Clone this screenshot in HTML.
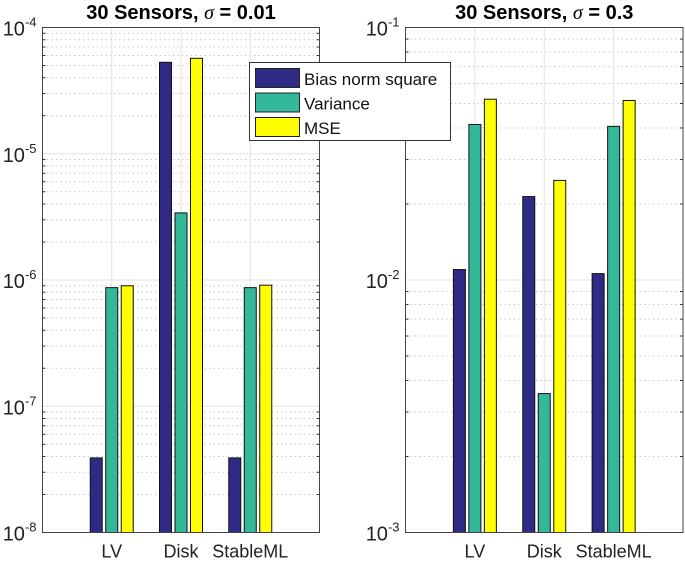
<!DOCTYPE html>
<html><head><meta charset="utf-8"><style>
body{margin:0;background:#fff}
svg{display:block;font-family:"Liberation Sans",sans-serif}
</style></head><body>
<svg id="c" width="685" height="561"></svg>
<script>
const categories=["LV","Disk","StableML"];
const seriesNames=["Bias norm square","Variance","MSE"];
const leftBias=[3.9e-8,5.3e-5,3.9e-8];
const leftVar=[8.7e-7,3.4e-6,8.7e-7];
const leftMSE=[9.0e-7,5.7e-5,9.1e-7];
const rightBias=[1.1e-2,2.14e-2,1.06e-2];
const rightVar=[4.13e-2,3.55e-3,4.06e-2];
const rightMSE=[5.2e-2,2.48e-2,5.14e-2];
const leftTickExp=[-8,-7,-6,-5,-4];
const rightTickExp=[-3,-2,-1];
const colors=["#2e2a86","#33b89a","#ffff00"];
const NS="http://www.w3.org/2000/svg";
const svg=document.getElementById('c');
function mk(t,a,p){const e=document.createElementNS(NS,t);for(const k in a)e.setAttribute(k,a[k]);(p||svg).appendChild(e);return e;}
function panel(x0,x1,yTop,yBot,expMin,expMax,series,title,name){
  const g=mk('g',{});
  
  
  const ys=v=>yBot-(Math.log10(v)-expMin)/(expMax-expMin)*(yBot-yTop);
  const xs=i=>x0+(i+1)*(x1-x0)/4;
  for(let e=expMin;e<expMax;e++)for(let m=2;m<=9;m++){const y=ys(m*Math.pow(10,e));
    mk('line',{x1:x0,x2:x1,y1:y,y2:y,stroke:'#c8c8c8','stroke-dasharray':'1.5,3','stroke-width':1},g);
    mk('line',{x1:x0,x2:x0+3,y1:y,y2:y,stroke:'#333'},g);mk('line',{x1:x1,x2:x1-3,y1:y,y2:y,stroke:'#333'},g);}
  const ticks=name==='left-panel'?leftTickExp:rightTickExp;
  ticks.forEach(e=>{const y=ys(Math.pow(10,e));
    mk('line',{x1:x0,x2:x1,y1:y,y2:y,stroke:'#e3e3e3'},g);
    const t=mk('text',{x:x0-6,y:y+8,'text-anchor':'end','font-size':20,fill:'#222'},g);
    
    
    t.innerHTML='10<tspan dy="-9" font-size="13">'+e+'</tspan>';});
  categories.forEach((c,i)=>{const x=xs(i);
    mk('line',{x1:x,x2:x,y1:yTop,y2:yBot,stroke:'#e3e3e3'},g);
    const t=mk('text',{x:x,y:yBot+25,'text-anchor':'middle','font-size':18,fill:'#222'},g);
    
    
    t.textContent=c;});
  series.forEach((s,j)=>s.forEach((v,i)=>{const x=xs(i)+(j-1)*15.5-6;const y=ys(v);
    const r=mk('rect',{x:x,y:y,width:12,height:yBot-y,fill:colors[j],stroke:'#111','stroke-width':1},g);
    
    }));
  mk('rect',{x:x0,y:yTop,width:x1-x0,height:yBot-yTop,fill:'none',stroke:'#444','stroke-width':1},g);
  const tt=mk('text',{x:(x0+x1)/2,y:19,'text-anchor':'middle','font-size':20,'font-weight':'bold',fill:'#000'},g);
  
  
  tt.innerHTML=title;
}
panel(42.5,319.5,27.5,532.5,-8,-4,[leftBias,leftVar,leftMSE],'30 Sensors,  <tspan font-family="Liberation Serif" font-style="italic" font-weight="normal">σ</tspan> = 0.01','left-panel');
panel(405.5,683,27.5,532.5,-3,-1,[rightBias,rightVar,rightMSE],'30 Sensors,  <tspan font-family="Liberation Serif" font-style="italic" font-weight="normal">σ</tspan> = 0.3','right-panel');
const lg=mk('g',{});


mk('rect',{x:249.5,y:62.5,width:201,height:78,fill:'#fff',stroke:'#333'},lg);
seriesNames.forEach((n,j)=>{const y=68+j*24.5;
  mk('rect',{x:255.5,y:y+0.5,width:44,height:19,fill:colors[j],stroke:'#222'},lg);
  const t=mk('text',{x:304,y:y+17,'font-size':17,fill:'#111'},lg);
  
  
  t.textContent=n;});
</script>
</body></html>
